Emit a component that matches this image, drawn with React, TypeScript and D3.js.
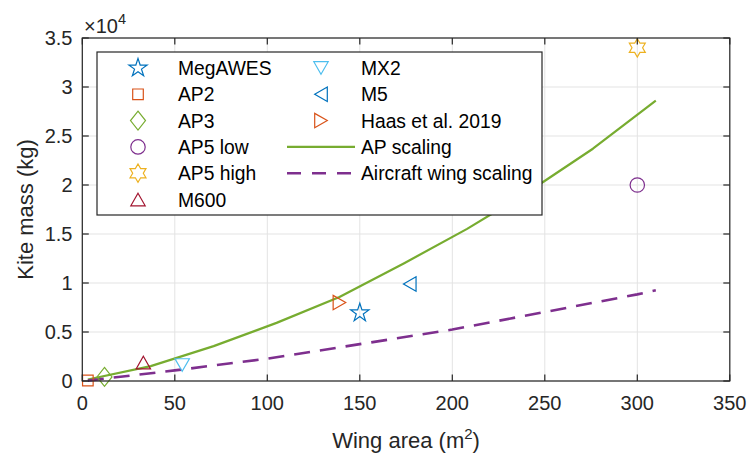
import React from 'react';
import * as d3 from 'd3';

const W = 747;
const H = 455;

// Measured data points
const seriesNames = ['MegAWES', 'AP2', 'AP3', 'AP5 low', 'AP5 high', 'M600', 'MX2', 'M5', 'Haas et al. 2019'];
const seriesArea = [150, 3, 12, 300, 300, 33, 54, 177, 139];
const seriesMass = [6950, 50, 420, 20000, 34000, 1880, 1630, 9900, 8000];
const seriesColors = ['#0072BD', '#D95319', '#77AC30', '#7E2F8E', '#EDB120', '#A2142F', '#4DBEEE', '#0072BD', '#D95319'];
const seriesMarkers = ['pentagram', 'square', 'diamond', 'circle', 'hexagram', 'triUp', 'triDown', 'triLeft', 'triRight'];

// Scaling curves
const apScalingArea = [3, 37, 71, 105, 139, 174, 208, 242, 276, 310];
const apScalingMass = [150, 1520, 3560, 5930, 8570, 12020, 15520, 19410, 23700, 28600];
const aircraftArea = [3, 50, 100, 150, 200, 250, 300, 310];
const aircraftMass = [40, 1080, 2280, 3760, 5250, 7040, 8840, 9250];

const lineNames = ['AP scaling', 'Aircraft wing scaling'];
const lineColors = ['#77AC30', '#7E2F8E'];

const xTicks = [0, 50, 100, 150, 200, 250, 300, 350];
const yTicks = [0, 5000, 10000, 15000, 20000, 25000, 30000, 35000];
const yTickLabels = ['0', '0.5', '1', '1.5', '2', '2.5', '3', '3.5'];

const FONT = '"Liberation Sans", Arial, Helvetica, sans-serif';
const AX = '#262626';

function starPath(n: number, R: number, r: number): string {
  const pts: string[] = [];
  for (let i = 0; i < 2 * n; i++) {
    const a = -Math.PI / 2 + (i * Math.PI) / n;
    const rad = i % 2 === 0 ? R : r;
    pts.push(`${(rad * Math.cos(a)).toFixed(2)},${(rad * Math.sin(a)).toFixed(2)}`);
  }
  return 'M' + pts.join('L') + 'Z';
}

function markerPath(type: string): string {
  switch (type) {
    case 'pentagram':
      return starPath(5, 9.6, 9.6 * 0.382);
    case 'hexagram':
      return starPath(6, 9.2, 9.2 / Math.sqrt(3));
    case 'square':
      return 'M-5.3,-5.3L5.3,-5.3L5.3,5.3L-5.3,5.3Z';
    case 'diamond':
      return 'M0,-9.5L7.5,0L0,9.5L-7.5,0Z';
    case 'circle':
      return 'M7.2,0A7.2,7.2 0 1,1 -7.2,0A7.2,7.2 0 1,1 7.2,0Z';
    case 'triUp':
      return 'M0,-6.3L7.2,6.3L-7.2,6.3Z';
    case 'triDown':
      return 'M0,6.3L7.2,-6.3L-7.2,-6.3Z';
    case 'triLeft':
      return 'M-6.3,0L6.3,-7.2L6.3,7.2Z';
    case 'triRight':
      return 'M6.3,0L-6.3,-7.2L-6.3,7.2Z';
    default:
      return '';
  }
}

export default function App() {
  const x = d3.scaleLinear().domain([0, 350]).range([82.3, 729.8]);
  const y = d3.scaleLinear().domain([0, 35000]).range([381, 38]);
  const [x0, x1] = x.range();
  const [y0, y1] = y.range();

  const line = d3
    .line<[number, number]>()
    .x((d) => x(d[0]))
    .y((d) => y(d[1]));

  const apData: [number, number][] = apScalingArea.map((a, i) => [a, apScalingMass[i]]);
  const acData: [number, number][] = aircraftArea.map((a, i) => [a, aircraftMass[i]]);

  const tickLen = 6.5;

  // legend layout
  const lgX = 97, lgY = 52, lgW = 445, lgH = 163;
  const rowY0 = 68, rowDy = 26.3;
  const col1Marker = 138, col1Text = 178;
  const col2Marker = 321, col2Text = 361, lineX0 = 287, lineX1 = 355;

  return (
    <svg
      width={W}
      height={H}
      style={{ position: 'absolute', left: 0, top: 0, background: '#fff' }}
      fontFamily={FONT}
    >
      <rect x={0} y={0} width={W} height={H} fill="#fff" />
      {/* grid */}
      <g stroke="#e3e3e3" strokeWidth={1}>
        {xTicks.map((t) => (
          <line key={'gx' + t} x1={x(t)} x2={x(t)} y1={y0} y2={y1} />
        ))}
        {yTicks.map((t) => (
          <line key={'gy' + t} x1={x0} x2={x1} y1={y(t)} y2={y(t)} />
        ))}
      </g>

      {/* scaling curves */}
      <path d={line(apData) || ''} fill="none" stroke={lineColors[0]} strokeWidth={2.2} strokeLinejoin="round" />
      <path
        d={line(acData) || ''}
        fill="none"
        stroke={lineColors[1]}
        strokeWidth={2.6}
        strokeDasharray="16 10"
      />

      {/* markers */}
      {seriesNames.map((n, i) => (
        <path
          key={n}
          d={markerPath(seriesMarkers[i])}
          transform={`translate(${x(seriesArea[i])},${y(seriesMass[i])})`}
          fill="none"
          stroke={seriesColors[i]}
          strokeWidth={1.2}
          strokeLinejoin="miter"
        />
      ))}

      {/* axes box and ticks */}
      <g stroke={AX} strokeWidth={1.2} fill="none">
        <rect x={x0} y={y1} width={x1 - x0} height={y0 - y1} />
        {xTicks.map((t) => (
          <g key={'tx' + t}>
            <line x1={x(t)} x2={x(t)} y1={y0} y2={y0 - tickLen} />
            <line x1={x(t)} x2={x(t)} y1={y1} y2={y1 + tickLen} />
          </g>
        ))}
        {yTicks.map((t) => (
          <g key={'ty' + t}>
            <line x1={x0} x2={x0 + tickLen} y1={y(t)} y2={y(t)} />
            <line x1={x1} x2={x1 - tickLen} y1={y(t)} y2={y(t)} />
          </g>
        ))}
      </g>

      {/* tick labels */}
      <g fill={AX} fontSize={20}>
        {xTicks.map((t) => (
          <text key={'lx' + t} x={x(t)} y={409.5} textAnchor="middle">
            {t}
          </text>
        ))}
        {yTicks.map((t, i) => (
          <text key={'ly' + t} x={72.5} y={y(t) + 7} textAnchor="end">
            {yTickLabels[i]}
          </text>
        ))}
      </g>

      {/* exponent */}
      <text x={84} y={33} fill={AX} fontSize={20}>
        ×10
        <tspan fontSize={14.5} dy={-9}>
          4
        </tspan>
      </text>

      {/* axis labels */}
      <text x={(x0 + x1) / 2} y={447.5} textAnchor="middle" fill={AX} fontSize={22}>
        Wing area (m
        <tspan fontSize={15} dy={-9}>
          2
        </tspan>
        <tspan dy={9}>)</tspan>
      </text>
      <text
        transform={`translate(33,${(y0 + y1) / 2}) rotate(-90)`}
        textAnchor="middle"
        fill={AX}
        fontSize={22}
      >
        Kite mass (kg)
      </text>

      {/* legend */}
      <rect x={lgX} y={lgY} width={lgW} height={lgH} fill="#fff" stroke="#262626" strokeWidth={1.2} />
      {seriesNames.map((n, i) => {
        const col = i < 6 ? 0 : 1;
        const row = i < 6 ? i : i - 6;
        const cy = rowY0 + row * rowDy;
        const mx = col === 0 ? col1Marker : col2Marker;
        const tx = col === 0 ? col1Text : col2Text;
        return (
          <g key={'lg' + n}>
            <path
              d={markerPath(seriesMarkers[i])}
              transform={`translate(${mx},${cy})`}
              fill="none"
              stroke={seriesColors[i]}
              strokeWidth={1.2}
            />
            <text x={tx} y={cy + 7} fontSize={19.3} fill="#000">
              {n}
            </text>
          </g>
        );
      })}
      {lineNames.map((n, i) => {
        const cy = rowY0 + (3 + i) * rowDy;
        return (
          <g key={'ll' + n}>
            <line
              x1={lineX0}
              x2={lineX1}
              y1={cy}
              y2={cy}
              stroke={lineColors[i]}
              strokeWidth={i === 0 ? 2.2 : 2.6}
              strokeDasharray={i === 0 ? undefined : '14 11'}
            />
            <text x={col2Text} y={cy + 7} fontSize={19.3} fill="#000">
              {n}
            </text>
          </g>
        );
      })}
    </svg>
  );
}
